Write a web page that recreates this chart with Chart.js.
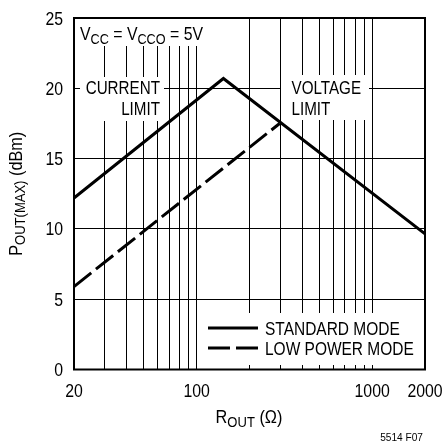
<!DOCTYPE html>
<html>
<head>
<meta charset="utf-8">
<script src="https://cdn.jsdelivr.net/npm/chart.js@4/dist/chart.umd.min.js"></script>
<style>
  html,body{margin:0;padding:0;background:#fff;}
  #wrap{width:443px;height:446px;position:relative;}
</style>
</head>
<body>
<div id="wrap"><canvas id="c" width="443" height="446"></canvas></div>
<script>
// ---- data ----
const standardR   = [20, 142, 2000];
const standardP   = [12.2, 20.7, 9.65];
const lowPowerR   = [20, 297];
const lowPowerP   = [5.9, 17.5];
const seriesNames = ['STANDARD MODE', 'LOW POWER MODE'];
const xGridValues = [20,30,40,50,60,70,80,90,100,200,300,400,500,600,700,800,900,1000,2000];
const xTickLabels = [20, 100, 1000, 2000];
const yTickValues = [0, 5, 10, 15, 20, 25];

const FONT = '"Liberation Sans",Arial,Helvetica,sans-serif';
const SUB = 0.8;

function richWidth(ctx, segs, size, sx){
  let w = 0;
  for (const s of segs){
    ctx.font = (s.sub ? size*SUB : size) + 'px ' + FONT;
    w += ctx.measureText(s.t).width;
  }
  return w * sx;
}
function drawRich(ctx, segs, x, y, size, align, sx){
  sx = sx || 0.86;
  const w = richWidth(ctx, segs, size, sx);
  let cx = align === 'right' ? x - w : (align === 'center' ? x - w/2 : x);
  ctx.save();
  ctx.translate(cx, y);
  ctx.scale(sx, 1);
  ctx.textAlign = 'left';
  ctx.textBaseline = 'alphabetic';
  let px = 0;
  for (const s of segs){
    ctx.font = (s.sub ? size*SUB : size) + 'px ' + FONT;
    ctx.fillText(s.t, px, s.sub ? size*0.2 : 0);
    px += ctx.measureText(s.t).width;
  }
  ctx.restore();
}

const overlay = {
  id: 'overlay',
  beforeDatasetsDraw(chart){
    const ctx = chart.ctx;
    ctx.save();
    ctx.fillStyle = '#fff';
    // label boxes hide grid lines
    ctx.fillRect(74, 18, 131, 28);
    ctx.fillRect(80, 77, 84, 44);
    ctx.fillRect(281, 75, 88, 45);
    ctx.fillRect(200, 313, 225, 52);
    ctx.fillStyle = '#000';
    drawRich(ctx, [{t:'V'},{t:'CC',sub:true},{t:' = V'},{t:'CCO',sub:true},{t:' = 5V'}], 80, 40, 18, 'left', 0.88);
    drawRich(ctx, [{t:'CURRENT'}], 160, 94, 18, 'right', 0.845);
    drawRich(ctx, [{t:'LIMIT'}], 160, 115, 18, 'right', 0.845);
    drawRich(ctx, [{t:'VOLTAGE'}], 291.5, 93.5, 18, 'left', 0.845);
    drawRich(ctx, [{t:'LIMIT'}], 291.5, 115, 18, 'left', 0.845);
    ctx.restore();
  },
  afterDatasetsDraw(chart){
    const ctx = chart.ctx;
    const a = chart.chartArea;
    const xs = chart.scales.x, ys = chart.scales.y;
    ctx.save();
    // legend
    const ds = chart.data.datasets;
    const rows = [328, 348];
    ds.forEach((d, i) => {
      ctx.strokeStyle = '#000';
      ctx.lineWidth = 3;
      ctx.setLineDash(d.borderDash || []);
      ctx.beginPath();
      ctx.moveTo(208, rows[i]);
      ctx.lineTo(258, rows[i]);
      ctx.stroke();
      ctx.setLineDash([]);
      ctx.fillStyle = '#000';
      drawRich(ctx, [{t:d.label}], 265, rows[i] + 6.5, 18, 'left', 0.86);
    });
    // plot frame
    ctx.strokeStyle = '#000';
    ctx.lineWidth = 2;
    ctx.strokeRect(a.left, a.top, a.right - a.left, a.bottom - a.top);
    // tick labels
    ctx.fillStyle = '#000';
    xTickLabels.forEach(v => {
      drawRich(ctx, [{t:String(v)}], xs.getPixelForValue(v), a.bottom + 27, 18, 'center', 0.88);
    });
    yTickValues.forEach(v => {
      drawRich(ctx, [{t:String(v)}], a.left - 11, ys.getPixelForValue(v) + 6.5, 18, 'right', 0.88);
    });
    // axis titles
    drawRich(ctx, [{t:'R'},{t:'OUT',sub:true},{t:' (Ω)'}], 249, 423, 18.5, 'center', 0.88);
    ctx.save();
    ctx.translate(21.5, (a.top + a.bottom)/2);
    ctx.rotate(-Math.PI/2);
    drawRich(ctx, [{t:'P'},{t:'OUT(MAX)',sub:true},{t:' (dBm)'}], 0, 0, 18.5, 'center', 0.88);
    ctx.restore();
    drawRich(ctx, [{t:'5514 F07'}], 423, 441, 11, 'right', 0.92);
    ctx.restore();
  }
};

new Chart(document.getElementById('c'), {
  type: 'line',
  data: {
    datasets: [
      {
        label: seriesNames[0],
        data: standardR.map((r, i) => ({x: r, y: standardP[i]})),
        borderColor: '#000', borderWidth: 3, pointRadius: 0, tension: 0, fill: false
      },
      {
        label: seriesNames[1],
        data: lowPowerR.map((r, i) => ({x: r, y: lowPowerP[i]})),
        borderColor: '#000', borderWidth: 3, pointRadius: 0, tension: 0, fill: false,
        borderDash: [22, 6]
      }
    ]
  },
  options: {
    responsive: false,
    animation: false,
    devicePixelRatio: 1,
    layout: { padding: { left: 0, right: 18, top: 18, bottom: 0 } },
    plugins: { legend: { display: false }, tooltip: { enabled: false } },
    scales: {
      x: {
        type: 'logarithmic',
        min: 20, max: 2000,
        afterBuildTicks(scale){ scale.ticks = xGridValues.map(v => ({value: v})); },
        afterFit(scale){ scale.height = 76.5; },
        grid: { color: '#000', lineWidth: 1, drawTicks: false },
        border: { display: false },
        ticks: { display: false }
      },
      y: {
        min: 0, max: 25,
        afterBuildTicks(scale){ scale.ticks = yTickValues.map(v => ({value: v})); },
        afterFit(scale){ scale.width = 74; },
        grid: { color: '#000', lineWidth: 1, drawTicks: false },
        border: { display: false },
        ticks: { display: false }
      }
    }
  },
  plugins: [overlay]
});
</script>
</body>
</html>
